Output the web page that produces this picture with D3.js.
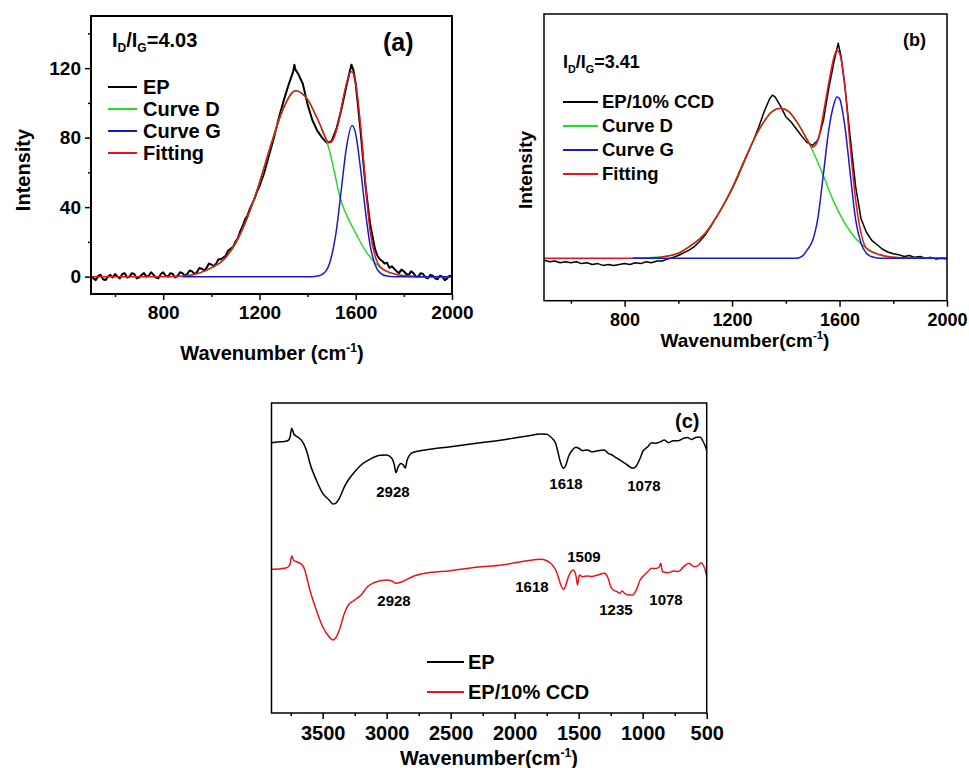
<!DOCTYPE html>
<html>
<head>
<meta charset="utf-8">
<script src="https://cdn.jsdelivr.net/npm/d3@7"></script>
<style>
body { margin: 0; background: #fff; }
svg { font-family: "Liberation Sans", Arial, sans-serif; font-weight: bold; }
</style>
</head>
<body>
<svg width="969" height="768"></svg>
<script>
// ---- //
// Data //
// ---- //

// (a) Raman, EP
var ramanEP = [[500,0.5],[510,-1],[520,-2],[530,0.5],[540,1],[550,-1.5],[560,-2],[570,0],[580,1],[590,-0.5],[600,1.5],[610,0],[620,-1],[630,1.5],[640,2],[650,-0.5],[660,0],[670,2],[680,1.5],[690,-1],[700,-0.5],[710,1],[720,2],[730,0],[740,0.5],[750,2.5],[760,1],[770,-0.5],[780,-1],[790,1.5],[800,2.5],[810,0.5],[820,0],[830,2],[840,1.5],[850,-0.5],[860,0.5],[870,2.5],[880,2],[890,0.5],[900,1.5],[910,3.5],[920,3],[930,1.5],[940,2.5],[950,5],[960,4.5],[970,3.5],[980,5],[990,7.5],[1000,7],[1010,6],[1020,7.5],[1030,10],[1040,10],[1050,11],[1060,12],[1070,15],[1080,16],[1090,17],[1100,20],[1110,22],[1120,26],[1130,29],[1140,33],[1150,35],[1160,39],[1170,42],[1180,45],[1190,49],[1200,52],[1220,60],[1240,70],[1260,80],[1280,91],[1300,101],[1320,110],[1330,114],[1340,118],[1345,122],[1350,119],[1360,117],[1380,111],[1400,99],[1420,90],[1440,84],[1460,80],[1480,77],[1500,78],[1520,85],[1540,96],[1560,109],[1575,118],[1582,122],[1590,119],[1600,111],[1620,84],[1640,53],[1660,30],[1680,16],[1690,12],[1700,10],[1710,9],[1720,7.5],[1730,8],[1740,5],[1750,6],[1760,4.5],[1770,3],[1780,2],[1790,4],[1800,3],[1810,1.5],[1820,1],[1830,3],[1840,2],[1850,0],[1860,0],[1870,2],[1880,1.5],[1890,-0.5],[1900,-1],[1910,1],[1920,0.5],[1930,-1],[1940,-1.5],[1950,0.5],[1960,0],[1970,-2],[1980,-1],[1990,0.5],[2000,0]];
var fitEP = [[500,0],[800,0],[900,0.5],[950,2],[1000,5],[1050,9.6],[1100,19],[1150,34],[1200,54],[1250,77],[1300,97],[1330,105],[1350,107],[1380,105],[1400,102],[1430,94],[1450,88],[1470,81],[1490,77],[1510,80],[1530,90],[1550,104],[1570,115],[1580,118],[1590,117],[1600,111],[1620,87],[1640,54],[1660,26],[1680,12],[1700,6],[1750,2],[1800,0.5],[1900,0],[2000,0]];
var curveDEP = [[880,0],[900,0.5],[950,2],[1000,5],[1050,9.6],[1100,19],[1150,34],[1200,54],[1250,77],[1300,97],[1350,107],[1400,102],[1450,88],[1470,82],[1490,73],[1510,61],[1536,45],[1560,36],[1600,25],[1640,15],[1680,8],[1720,3.5],[1760,1.5],[1800,0.6],[1850,0],[2000,0]];
var curveGEP = [[880,0],[1420,0],[1450,0.6],[1480,4],[1500,12],[1520,27],[1540,50],[1560,73],[1585,87],[1600,82],[1620,62],[1640,38],[1660,18],[1680,7],[1700,2.3],[1730,0.3],[1760,0],[2000,0]];

// (b) Raman, EP/10% CCD
var ramanCCD = [[500,-1],[520,-2],[540,-1.5],[560,-2.5],[580,-2],[600,-2.5],[620,-2],[640,-3],[660,-2.5],[680,-3.5],[700,-3],[720,-4],[740,-3.5],[760,-4],[780,-3.5],[800,-3],[820,-3.5],[840,-2.5],[860,-3],[880,-2],[900,-2.5],[920,-1.5],[940,-1.5],[960,-0.5],[980,0.5],[1000,1.5],[1020,3],[1040,4.5],[1060,6.5],[1080,9.5],[1100,13],[1120,17.5],[1140,22.5],[1160,27.5],[1180,33],[1200,38.5],[1220,45],[1240,52],[1260,59],[1280,66],[1300,73.5],[1320,82],[1340,89],[1350,91],[1360,90],[1380,85],[1400,79],[1420,76],[1440,72],[1460,68],[1480,64.5],[1500,63],[1520,66],[1540,77],[1560,95],[1580,110],[1595,120],[1605,113],[1620,96],[1640,67],[1660,40],[1680,22],[1700,14.5],[1720,10],[1740,7.5],[1760,5],[1780,3.5],[1800,2.5],[1820,2],[1840,1],[1860,1.5],[1880,0.5],[1900,1],[1920,0],[1940,0.5],[1960,-0.5],[1980,0],[2000,-0.5]];
var fitCCD = [[500,0],[900,0],[950,1],[1000,2.8],[1050,7.4],[1100,14],[1150,25],[1200,39],[1250,56],[1300,71.6],[1350,82],[1380,83.7],[1410,82],[1450,74],[1480,66],[1500,62],[1520,66],[1540,81],[1560,98],[1580,112.6],[1590,116],[1600,114.4],[1620,96],[1640,62],[1660,32.6],[1680,14],[1700,5.6],[1750,1.9],[1800,0.6],[1900,0],[2000,0]];
var curveDCCD = [[830,0],[950,1],[1000,2.8],[1050,7.4],[1100,14],[1150,25],[1200,39],[1250,56],[1300,71.6],[1350,82],[1380,83.7],[1410,82],[1450,74],[1480,66],[1500,60],[1540,46],[1580,31],[1620,19.5],[1660,11],[1700,5.6],[1750,1.9],[1800,0.5],[1850,0],[2000,0]];
var curveGCCD = [[830,0],[1440,0],[1460,1],[1480,4.7],[1500,10],[1520,23],[1540,47],[1560,71.6],[1580,86.5],[1590,90],[1600,89],[1620,73.5],[1640,47],[1660,21.4],[1680,8.4],[1700,2.8],[1720,0.8],[1750,0],[2000,0]];

// (c) FTIR spectra
var ftirEP = [[3900,270.3],[3850,271],[3800,271.5],[3770,272.5],[3755,276],[3742,284.7],[3725,279],[3700,276.3],[3680,274.5],[3650,269.7],[3620,259.7],[3600,249.7],[3550,233],[3500,219.7],[3450,213],[3420,209],[3400,209.7],[3370,214.7],[3330,226.3],[3300,233],[3250,241.3],[3200,248],[3150,252.3],[3100,255.7],[3050,257.7],[3000,258],[2960,254.7],[2940,248],[2928,240.3],[2910,246.3],[2890,249.5],[2870,248],[2855,245],[2840,253],[2800,260.3],[2700,263],[2500,266.3],[2300,269.7],[2100,273],[1900,277],[1800,279],[1750,278.7],[1720,276.3],[1700,273.7],[1680,269.7],[1660,259.7],[1640,249.7],[1618,244.7],[1600,248],[1580,256.3],[1550,263],[1520,265.7],[1500,264.7],[1470,262.3],[1430,263],[1400,261.3],[1350,262.3],[1300,263],[1270,259.7],[1240,258],[1200,254.7],[1160,251.3],[1120,248],[1078,244.7],[1050,247],[1020,254.7],[1000,261.3],[960,266.3],[930,270.3],[900,269.7],[860,271.3],[830,273],[800,270.3],[760,272.3],[720,272.3],[680,274.7],[650,275.5],[620,273.5],[580,275.7],[550,275.7],[530,272],[515,268],[500,263]];
var ftirCCD = [[3900,143.7],[3850,144],[3800,144.7],[3770,146],[3755,149],[3742,157],[3725,152.3],[3700,151],[3660,148],[3640,143],[3620,133],[3600,123],[3550,103],[3500,86.3],[3450,76.3],[3420,73],[3400,74.7],[3370,83],[3330,99.7],[3300,108],[3250,113],[3200,118],[3150,126.3],[3100,130.3],[3050,132.3],[3000,133],[2960,132],[2928,129.7],[2880,131.3],[2800,136.3],[2700,139.7],[2500,142.3],[2300,145.7],[2100,148],[1900,152.3],[1800,153.7],[1750,152.3],[1720,149.7],[1700,147],[1680,143],[1660,136.3],[1640,128],[1618,123.7],[1600,128],[1580,136.3],[1560,141.3],[1540,143],[1520,136.3],[1509,128],[1495,138],[1470,136.3],[1430,137],[1400,136.5],[1350,138],[1300,139.7],[1270,134.7],[1250,126.3],[1230,123],[1200,121.3],[1180,119.7],[1160,122],[1140,119.5],[1110,118],[1078,118],[1050,123],[1020,133],[1000,136.3],[960,141.3],[930,144.7],[900,144.5],[870,146],[860,149.7],[845,141.3],[800,140.3],[760,142],[720,141.5],[680,146.3],[640,149.7],[595,146.3],[560,148],[546,150.3],[512,143],[500,136.3]];

// (c) peak labels: text, wavenumber and level where the label sits
var peakTextEP = ["2928", "1618", "1078"],
	peakWnEP = [2951, 1599, 990],
	peakLvEP = [221, 229, 227];
var peakTextCCD = ["2928", "1618", "1509", "1235", "1078"],
	peakWnCCD = [2943, 1865, 1459, 1209, 818],
	peakLvCCD = [112, 126, 156, 103, 113];

// Ticks
var ramanMajor = [800, 1200, 1600, 2000],
	ramanMinor = [600, 1000, 1400, 1800],
	intensityMajor = [0, 40, 80, 120],
	intensityMinor = [20, 60, 100, 140],
	ftirMajor = [3500, 3000, 2500, 2000, 1500, 1000, 500],
	ftirMinor = [3750, 3250, 2750, 2250, 1750, 1250, 750];

var legendA = ["EP", "Curve D", "Curve G", "Fitting"],
	legendB = ["EP/10% CCD", "Curve D", "Curve G", "Fitting"],
	legendC = ["EP", "EP/10% CCD"],
	legendColors = ["#000000", "#22dd22", "#1a1acc", "#e8141b"];

// ------------- //
// Visualization //
// ------------- //

var svg = d3.select("svg");

function panel(o) {
	var x = d3.scaleLinear().domain(o.xDomain).range([o.left, o.right]);
	var y = d3.scaleLinear().domain(o.yDomain).range([o.bottom, o.top]);
	var g = svg.append("g");

	// Minor ticks
	g.append("g")
		.attr("transform", "translate(0," + o.bottom + ")")
		.call(d3.axisBottom(x).tickValues(o.xMinor).tickSize(3).tickFormat(""));
	// Major ticks
	var xa = g.append("g")
		.attr("transform", "translate(0," + o.bottom + ")")
		.call(d3.axisBottom(x).tickValues(o.xMajor).tickSize(6).tickPadding(o.xPad).tickFormat(d3.format("d")));
	xa.attr("font-family", null).attr("font-size", o.tickFont);

	if (o.yMajor) {
		g.append("g")
			.attr("transform", "translate(" + o.left + ",0)")
			.call(d3.axisLeft(y).tickValues(o.yMinor).tickSize(3).tickFormat(""));
		g.append("g")
			.attr("transform", "translate(" + o.left + ",0)")
			.call(d3.axisLeft(y).tickValues(o.yMajor).tickSize(6).tickPadding(4))
			.attr("font-family", null).attr("font-size", o.tickFont);
	}
	g.selectAll(".domain").remove();
	g.selectAll(".tick line").attr("stroke-width", 1.5);

	// Series
	o.series.forEach(function(s) {
		var line = d3.line()
			.x(function(d) { return x(d[0]); })
			.y(function(d) { return y(d[1]); })
			.curve(s.smooth ? d3.curveMonotoneX : d3.curveLinear);
		g.append("path")
			.datum(s.data)
			.attr("d", line)
			.attr("fill", "none")
			.attr("stroke", s.color)
			.attr("stroke-width", s.width || 1.5)
			.attr("stroke-linejoin", "round");
	});

	// Frame
	g.append("rect")
		.attr("x", o.left).attr("y", o.top)
		.attr("width", o.right - o.left).attr("height", o.bottom - o.top)
		.attr("fill", "none").attr("stroke", "#000").attr("stroke-width", o.frame);

	return {x: x, y: y, g: g};
}

function legend(g, names, colors, x0, x1, tx, ys, size) {
	names.forEach(function(n, i) {
		g.append("line")
			.attr("x1", x0).attr("x2", x1).attr("y1", ys[i]).attr("y2", ys[i])
			.attr("stroke", colors[i]).attr("stroke-width", 2);
		g.append("text")
			.attr("x", tx).attr("y", ys[i]).attr("dy", "0.35em")
			.attr("font-size", size).text(n);
	});
}

function ratio(g, x, y, size, value) {
	var t = g.append("text").attr("x", x).attr("y", y).attr("font-size", size);
	t.append("tspan").text("I");
	t.append("tspan").attr("font-size", size * 0.6).attr("dy", 5).text("D");
	t.append("tspan").attr("dy", -5).text("/I");
	t.append("tspan").attr("font-size", size * 0.6).attr("dy", 5).text("G");
	t.append("tspan").attr("dy", -5).text("=" + value);
}

function xTitle(g, x, y, size, gap) {
	var t = g.append("text").attr("x", x).attr("y", y).attr("text-anchor", "middle")
		.attr("font-size", size);
	t.append("tspan").text("Wavenumber" + gap + "(cm");
	t.append("tspan").attr("font-size", size * 0.6).attr("dy", -8).text("-1");
	t.append("tspan").attr("dy", 8).text(")");
}

function yTitle(g, x, y, size) {
	g.append("text")
		.attr("transform", "translate(" + x + "," + y + ") rotate(-90)")
		.attr("text-anchor", "middle").attr("dy", "0.35em")
		.attr("font-size", size).text("Intensity");
}

// (a)
var pa = panel({
	left: 91, right: 452, top: 16, bottom: 294,
	xDomain: [500, 2000], yDomain: [-10, 150],
	xMajor: ramanMajor, xMinor: ramanMinor, yMajor: intensityMajor, yMinor: intensityMinor,
	xPad: 6, tickFont: 19, frame: 2,
	series: [
		{data: ramanEP, color: legendColors[0], width: 2},
		{data: curveDEP, color: legendColors[1], smooth: true},
		{data: fitEP, color: legendColors[3], smooth: true},
		{data: curveGEP, color: legendColors[2], smooth: true}
	]
});
legend(pa.g, legendA, legendColors, 108, 137, 143, [87, 109, 131, 153], 20);
ratio(pa.g, 112, 47, 20, "4.03");
pa.g.append("text").attr("x", 383).attr("y", 51).attr("font-size", 25).text("(a)");
xTitle(pa.g, 272, 360, 20, " ");
yTitle(pa.g, 23, 170, 20);

// (b)
var pb = panel({
	left: 544, right: 947, top: 14, bottom: 300.7,
	xDomain: [500, 2000], yDomain: [-23.7, 136.3],
	xMajor: ramanMajor, xMinor: ramanMinor,
	xPad: 7, tickFont: 18, frame: 1.5,
	series: [
		{data: ramanCCD, color: legendColors[0]},
		{data: curveDCCD, color: legendColors[1], smooth: true},
		{data: fitCCD, color: legendColors[3], smooth: true},
		{data: curveGCCD, color: legendColors[2], smooth: true}
	]
});
legend(pb.g, legendB, legendColors, 563, 598, 602, [102, 126, 150, 174], 18.5);
ratio(pb.g, 563, 68, 18, "3.41");
pb.g.append("text").attr("x", 903).attr("y", 46).attr("font-size", 18).text("(b)");
xTitle(pb.g, 745, 347, 19, "");
yTitle(pb.g, 525, 170, 19);

// (c)
var pc = panel({
	left: 271.5, right: 706.7, top: 403, bottom: 713,
	xDomain: [3900, 500], yDomain: [0, 310],
	xMajor: ftirMajor, xMinor: ftirMinor,
	xPad: 7, tickFont: 20, frame: 1.5,
	series: [
		{data: ftirEP, color: "#000000", smooth: true},
		{data: ftirCCD, color: "#e8141b", smooth: true}
	]
});
peakTextEP.forEach(function(t, i) {
	pc.g.append("text").attr("x", pc.x(peakWnEP[i])).attr("y", pc.y(peakLvEP[i]))
		.attr("dy", "0.35em").attr("text-anchor", "middle").attr("font-size", 15).text(t);
});
peakTextCCD.forEach(function(t, i) {
	pc.g.append("text").attr("x", pc.x(peakWnCCD[i])).attr("y", pc.y(peakLvCCD[i]))
		.attr("dy", "0.35em").attr("text-anchor", "middle").attr("font-size", 15).text(t);
});
legend(pc.g, legendC, ["#000000", "#e8141b"], 427, 464, 468, [662, 692], 20);
pc.g.append("text").attr("x", 675).attr("y", 428).attr("font-size", 20).text("(c)");
xTitle(pc.g, 489, 765, 20, "");
</script>
</body>
</html>
